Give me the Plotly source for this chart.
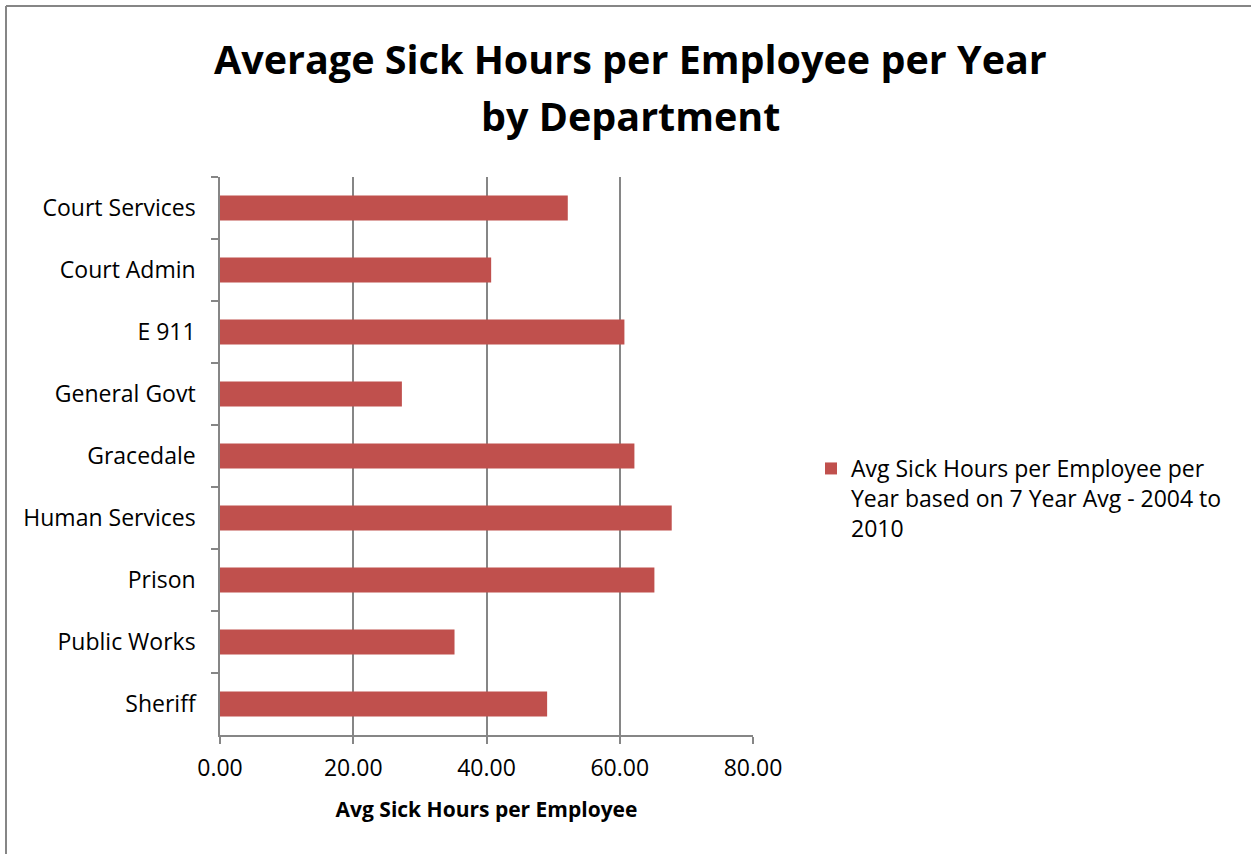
import plotly.graph_objects as go

departments = [
    "Court Services", "Court Admin", "E 911", "General Govt", "Gracedale",
    "Human Services", "Prison", "Public Works", "Sheriff",
]
avg_sick_hours = [52.2, 40.7, 60.7, 27.3, 62.2, 67.8, 65.2, 35.2, 49.1]
x_ticks = [0, 20, 40, 60, 80]
series_name = "Avg Sick Hours per Employee per<br>Year based on 7 Year Avg - 2004 to<br>2010"
title_lines = ["Average Sick Hours per Employee per Year", "by Department"]

FONT = "Open Sans"
GRID = "#868686"
BAR = "#C0504D"

W, H = 1251, 854
L, R, T, B = 220, 498, 177, 119
pw, ph = W - L - R, H - T - B


def px_x(px):
    return (px - L) / pw


def px_y(py):
    return (H - B - py) / ph


fig = go.Figure(
    go.Bar(
        x=avg_sick_hours,
        y=departments,
        orientation="h",
        name=series_name,
        marker=dict(color=BAR, line=dict(width=0)),
        showlegend=True,
    )
)

title_annotations = [
    dict(
        text=f"<b>{line}</b>",
        xref="paper",
        yref="paper",
        x=px_x(630),
        y=px_y(yc),
        xanchor="center",
        yanchor="middle",
        showarrow=False,
        font=dict(size=39.5, family=FONT),
    )
    for line, yc in zip(title_lines, [59, 116])
]

fig.update_layout(
    width=W,
    height=H,
    margin=dict(l=L, r=R, t=T, b=B, autoexpand=False),
    paper_bgcolor="white",
    plot_bgcolor="white",
    bargap=0.6,
    font=dict(family=FONT, color="black", size=23),
    xaxis=dict(
        range=[0, 80],
        tickvals=x_ticks,
        tickformat=".2f",
        showgrid=True,
        gridcolor=GRID,
        gridwidth=1.5,
        zeroline=False,
        showline=True,
        linecolor=GRID,
        linewidth=1.5,
        ticks="outside",
        ticklen=7,
        tickcolor=GRID,
        tickwidth=1.5,
        ticklabelstandoff=5,
        tickfont=dict(size=23),
        title=dict(
            text="<b>Avg Sick Hours per Employee</b>",
            font=dict(size=21),
            standoff=20,
        ),
    ),
    yaxis=dict(
        autorange="reversed",
        showgrid=False,
        showline=True,
        linecolor=GRID,
        linewidth=1.5,
        ticks="outside",
        tickson="boundaries",
        ticklen=7,
        tickcolor=GRID,
        tickwidth=1.5,
        ticklabelstandoff=18,
        tickfont=dict(size=23),
    ),
    legend=dict(
        x=px_x(811),
        y=px_y(447),
        xanchor="left",
        yanchor="top",
        font=dict(size=23),
        bgcolor="rgba(0,0,0,0)",
        itemwidth=30,
        valign="top",
        tracegroupgap=0,
    ),
    annotations=title_annotations,
    shapes=[
        dict(type="line", xref="paper", yref="paper",
             x0=px_x(6), x1=px_x(1260), y0=px_y(6), y1=px_y(6),
             line=dict(color=GRID, width=2)),
        dict(type="line", xref="paper", yref="paper",
             x0=px_x(6), x1=px_x(6), y0=px_y(6), y1=px_y(870),
             line=dict(color=GRID, width=2)),
    ],
)

fig.write_html("out.html")
